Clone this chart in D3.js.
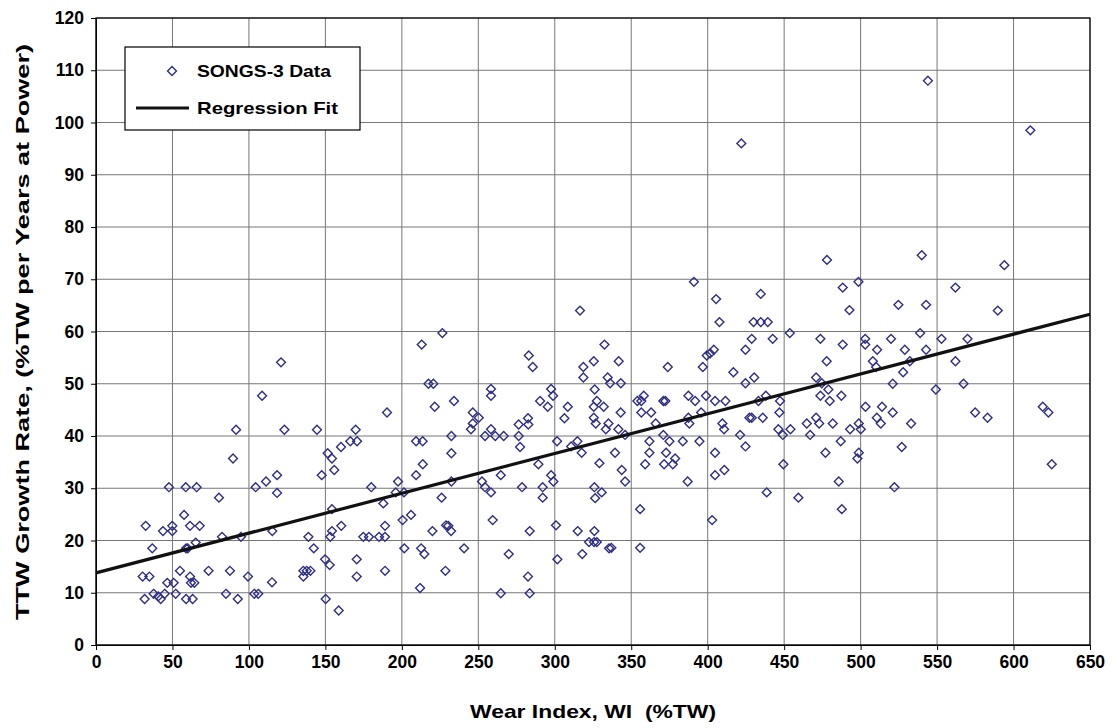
<!DOCTYPE html>
<html>
<head>
<meta charset="utf-8">
<script src="https://cdn.jsdelivr.net/npm/d3@7"></script>
<style>
  body { margin: 0; background: #fff; }
  text { font-family: "Liberation Sans", Arial, sans-serif; font-weight: bold; }
</style>
</head>
<body>
<div class="chart"></div>
<script>
// SONGS-3 data: [wear index (%TW), TTW growth rate (%TW per years at power)]
let songs3 = [
  [422,96],[544,108],[611,98.5],[540,74.6],[594,72.7],[478,73.7],
  [121,54.1],[213,57.5],[226.5,59.7],[316.5,64],[283,55.4],[285.6,53.2],[332.5,57.5],[325.5,54.3],[318.7,53.2],[318.7,51.2],[334.6,51.2],
  [391,69.5],[405.5,66.2],[434.7,67.2],[488.3,68.4],[407.7,61.8],[430,61.8],[434.7,61.8],[439.3,61.8],[453.7,59.7],[473.7,58.6],[488.3,57.5],
  [341.8,54.3],[428.8,58.6],[442.5,58.6],[424.7,56.5],[404,56.5],[401.6,55.8],[399.4,55.4],[373.9,53.2],[396.8,53.2],[416.8,52.2],[430.4,51.2],
  [477.8,54.3],[470.9,51.2],
  [498.6,69.5],[562,68.4],[492.7,64.1],[524.7,65.1],[542.8,65.1],[589.7,64],[503,58.6],[503,57.5],[510.8,56.5],[519.9,58.6],[528.9,56.5],
  [538.9,59.7],[542.8,56.5],[552.9,58.6],[569.9,58.6],[508,54.3],[510.1,53.2],[532.2,54.3],[562,54.3],[527.8,52.2],
  [108.6,47.7],[91.6,41.2],[123.2,41.2],[144.5,41.2],[169.8,41.2],[166.3,39],[170.7,39],[160.2,37.9],[151.5,36.7],[154.3,35.7],[89.6,35.7],
  [155.8,33.5],[147.6,32.5],[118.4,32.5],[111.2,31.3],[104.4,30.2],[118.4,29.1],[47.7,30.2],[58.7,30.2],[65.8,30.2],[80.4,28.2],[180,30.2],
  [217.4,50],[220.6,50],[258.3,49],[258.3,47.7],[297.6,49],[298.9,47.7],[326.1,48.9],[190.3,44.5],[221.5,45.6],[234.1,46.7],[246.4,44.5],
  [250.3,43.5],[246.4,42.4],[245.2,41.3],[258.3,41.3],[254.4,40],[261.1,40],[266.6,40],[232.4,40],[209.3,39],[213.6,39],[232.4,36.7],
  [213.7,34.6],[209.3,32.5],[197.5,31.3],[196,29.2],[201.4,29.2],[232.4,31.3],[276.4,42.2],[282.5,43.4],[282.7,42.2],[276.4,40],[277.3,37.9],
  [290.4,46.7],[295.4,45.6],[308.5,45.6],[306.3,43.4],[327.5,46.7],[325.5,45.6],[332,45.6],[325.5,43.5],[326.8,42.4],[333.4,41.3],[301.5,39],
  [289.3,34.6],[264.7,32.5],[252.4,31.3],[254.4,30.2],[258.3,29.2],[278.6,30.2],[292.1,30.2],[297.6,32.5],[299.1,31.3],[310.7,38],[314.8,39],
  [317.6,36.8],[329.2,34.8],[325.9,30.2],[330.7,29.2],[226,28.2],[292.1,28.2],
  [336.2,50.1],[343.2,50.1],[343.1,44.5],[335.1,42.4],[341.6,41.3],[346,40.2],[354,46.7],[358.2,47.7],[356.6,46.7],[371,46.7],[372.3,46.7],
  [356.6,44.5],[363,44.5],[366,42.4],[371,40.2],[361.9,39],[375,39],[383.7,39],[394.6,39],[361.9,36.8],[372.8,36.8],[378.7,35.7],[377.2,34.6],
  [359.1,34.6],[371.5,34.6],[339.4,36.8],[343.8,33.5],[346,31.3],[386.9,31.3],[387.4,47.7],[391.8,46.7],[398.9,47.7],[387.4,43.5],[388,42.4],
  [395.7,44.5],[404.8,46.7],[411.6,46.7],[409.6,42.4],[410.7,41.3],[421.2,40.2],[424.7,38],[404.8,36.8],[404.8,32.5],[410.9,33.5],[424.7,50.1],
  [438,47.7],[433.2,46.7],[427.3,43.5],[428.8,43.5],[436,43.5],[447.3,46.7],[446.9,44.5],[446.2,41.3],[449.1,40.2],[454.1,41.3],[449.5,34.6],
  [438.6,29.2],[459.3,28.2],[474.6,50.1],[478.9,48.9],[473.7,47.7],[479.8,46.7],[487.4,47.7],[464.8,42.4],[470.9,43.5],[472.9,42.4],[481.8,42.4],
  [467,40.2],[487,39],[477,36.8],[485.7,31.3],
  [521,50],[549.2,48.9],[567.3,50],[503.2,45.6],[514,45.6],[521,44.5],[510.6,43.5],[513.2,42.4],[498.8,42.4],[500.1,41.3],[493.1,41.3],[533,42.4],
  [574.9,44.5],[583,43.5],[619.1,45.6],[622.8,44.5],[526.9,37.9],[498.8,36.8],[497.9,35.7],[625,34.6],[522.1,30.2],
  [57.6,24.9],[32.5,22.8],[43.8,21.8],[49.9,22.8],[49.9,21.8],[61.5,22.8],[67.8,22.8],[36.8,18.5],[58.9,18.5],[60,18.5],[65.2,19.6],[82.4,20.7],
  [94.8,20.7],[115.3,21.8],[154.3,26],[154.3,21.8],[160.4,22.8],[153.2,20.7],[138.9,20.7],[142.4,18.5],[149.8,16.4],[152.8,15.3],[174.8,20.7],
  [178.5,20.7],[170.5,16.4],[170.5,13.1],[135.6,14.2],[137.8,14.2],[140.2,14.2],[135.6,13.1],[150.2,8.8],[158.7,6.6],[30.5,13.1],[34.9,13.1],
  [54.9,14.2],[61.5,13.1],[62.1,11.9],[64.3,11.9],[46.6,11.9],[50.8,11.9],[73.6,14.2],[87.6,14.2],[99.4,13.1],[115.1,12],[37.7,9.8],[40.7,9.3],
  [44.9,9.8],[52.1,9.8],[31.8,8.8],[42.3,8.8],[58.9,8.8],[63.2,8.8],[85,9.8],[92.7,8.8],[103.5,9.8],[106.1,9.8],
  [187.9,27.1],[200.5,23.9],[206,24.9],[189,22.8],[185.1,20.7],[189,20.7],[201.6,18.5],[212.6,18.5],[214.7,17.4],[220,21.8],[228.9,22.9],
  [230.4,22.8],[232.2,21.8],[240.7,18.5],[189,14.2],[228.5,14.2],[211.9,10.9],[259.4,23.9],[283.6,21.8],[269.9,17.4],[282.5,13.1],[264.7,9.9],
  [283.6,9.9],[300.8,22.9],[315,21.8],[325.9,21.8],[322.4,19.7],[325.7,19.7],[327.5,19.7],[335.5,18.5],[301.7,16.4],[318,17.4],[326.4,28.1],
  [355.8,26],[402.9,23.9],[337,18.6],[355.8,18.6],[487.7,26]
];

// regression fit end points
let fitX = [0, 650];
let fitY = [13.8, 63.3];

let xTicks = d3.range(0, 651, 50);
let yTicks = d3.range(0, 121, 10);

let width = 1117;
let height = 728;
let margin = {top: 18, right: 27, bottom: 83, left: 96};
let w = width - margin.left - margin.right;
let h = height - margin.top - margin.bottom;

const svg = d3.select(".chart")
  .append("svg")
  .attr("width", width)
  .attr("height", height);

const g = svg.append("g")
  .attr("transform", "translate(" + margin.left + "," + margin.top + ")");

let x = d3.scaleLinear().domain([0, 650]).range([0, w]);
let y = d3.scaleLinear().domain([0, 120]).range([h, 0]);

// grid
g.append("g")
  .selectAll("line")
  .data(xTicks)
  .enter()
  .append("line")
  .attr("x1", d => x(d)).attr("x2", d => x(d))
  .attr("y1", 0).attr("y2", h)
  .attr("stroke", "#777").attr("stroke-width", 1);

g.append("g")
  .selectAll("line")
  .data(yTicks)
  .enter()
  .append("line")
  .attr("x1", 0).attr("x2", w)
  .attr("y1", d => y(d)).attr("y2", d => y(d))
  .attr("stroke", "#777").attr("stroke-width", 1);

// axes
let xAxis = g.append("g")
  .attr("transform", "translate(0," + h + ")")
  .call(d3.axisBottom(x).tickValues(xTicks).tickSize(5).tickPadding(6).tickSizeOuter(0));
let yAxis = g.append("g")
  .call(d3.axisLeft(y).tickValues(yTicks).tickSize(5).tickPadding(7).tickSizeOuter(0));

[xAxis, yAxis].forEach(a => {
  a.selectAll("text").style("font-size", "17.5px").style("font-family", "'Liberation Sans', Arial, sans-serif").style("font-weight", "bold").attr("fill", "#000");
  a.selectAll("line").attr("stroke", "#000");
  a.select(".domain").attr("stroke", "#000");
});

// frame
g.append("rect")
  .attr("width", w).attr("height", h)
  .attr("fill", "none").attr("stroke", "#000").attr("stroke-width", 1.2);

let diamond = d3.symbol().type(d3.symbolDiamond2).size(50);

// data points
g.append("g")
  .selectAll("path")
  .data(songs3)
  .enter()
  .append("path")
  .attr("d", diamond)
  .attr("transform", d => "translate(" + x(d[0]) + "," + y(d[1]) + ")")
  .attr("fill", "none")
  .attr("stroke", "#2e2e86")
  .attr("stroke-width", 1.4);

// regression line
let line = d3.line().x(d => x(d[0])).y(d => y(d[1]));
g.append("path")
  .datum(fitX.map((d, i) => [d, fitY[i]]))
  .attr("d", line)
  .attr("fill", "none")
  .attr("stroke", "#111")
  .attr("stroke-width", 3.2);

// legend
let leg = svg.append("g").attr("transform", "translate(125,47)");
leg.append("rect")
  .attr("width", 235).attr("height", 83)
  .attr("fill", "#fff").attr("stroke", "#000").attr("stroke-width", 1.2);
leg.append("path")
  .attr("d", diamond)
  .attr("transform", "translate(47,24)")
  .attr("fill", "none").attr("stroke", "#2e2e86").attr("stroke-width", 1.4);
leg.append("text").attr("x", 72).attr("y", 30).style("font-size", "17px")
  .attr("textLength", 134).attr("lengthAdjust", "spacingAndGlyphs").text("SONGS-3 Data");
leg.append("line")
  .attr("x1", 11).attr("x2", 64).attr("y1", 61).attr("y2", 61)
  .attr("stroke", "#111").attr("stroke-width", 3.2);
leg.append("text").attr("x", 72).attr("y", 67).style("font-size", "17px")
  .attr("textLength", 141).attr("lengthAdjust", "spacingAndGlyphs").text("Regression Fit");

// axis titles
svg.append("text")
  .attr("x", 470).attr("y", 718)
  .style("font-size", "18.5px")
  .style("white-space", "pre")
  .attr("textLength", 246).attr("lengthAdjust", "spacingAndGlyphs")
  .text("Wear Index, WI  (%TW)");

svg.append("text")
  .attr("transform", "translate(29,620) rotate(-90)")
  .style("font-size", "18.5px")
  .attr("textLength", 576).attr("lengthAdjust", "spacingAndGlyphs")
  .text("TTW Growth Rate, (%TW per Years at Power)");
</script>
</body>
</html>
